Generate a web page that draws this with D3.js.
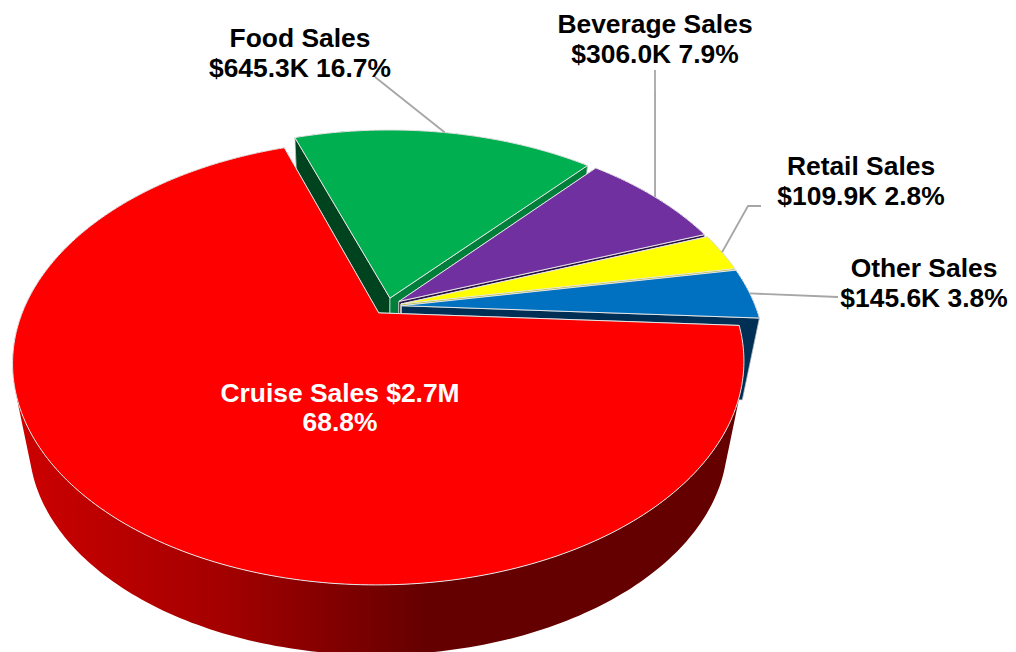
<!DOCTYPE html>
<html>
<head>
<meta charset="utf-8">
<script src="https://cdnjs.cloudflare.com/ajax/libs/d3/7.8.5/d3.min.js"></script>
<style>
  html, body { margin: 0; padding: 0; background: #fff; }
  svg { display: block; }
  text { font-family: "Liberation Sans", Arial, sans-serif; font-weight: bold; font-size: 26.4px; text-anchor: middle; }
</style>
</head>
<body>
<svg id="chart" width="1016" height="652"></svg>
<script>
// Sales mix, in thousands of dollars, clockwise from the Food Sales slice.
const categories = ["Food Sales", "Beverage Sales", "Retail Sales", "Other Sales", "Cruise Sales"];
const salesValues = [645.3, 306.0, 109.9, 145.6, 2660];
const amountLabels = ["$645.3K", "$306.0K", "$109.9K", "$145.6K", "$2.7M"];
const shareLabels = ["16.7%", "7.9%", "2.8%", "3.8%", "68.8%"];

// Slice colours: top face, start wall, end wall, rim.
const topColors = ["#00b050", "#7030a0", "#ffff00", "#0070c0", "#ff0000"];
const startWallColors = ["#00431f", "#3a1a55", "#8a8a00", "#002f55", "#660000"];
const endWallColors = ["#007f3a", "#2c1245", "#b5b500", "#002f55", "#660000"];
const rimColors = ["#00431f", "#3a1a55", "#8a8a00", "#002f55", "url(#rimShade)"];

const width = 1016, height = 652;

// Perspective view of the pie disc: unit-disc coordinates (u right, v away from viewer).
const view = { cx: 387.3, cy: 306.2, rx: 354, ry: 208.5, k: 0.221 };
const explode = 0.04;
// Lower face of the disc converges towards a vanishing point below the chart.
const depth = { vx: 379, vy: 2140, s: 0.955 };

const scaleU = d3.scaleLinear().domain([-1, 1]).range([view.cx - view.rx, view.cx + view.rx]);
const scaleV = d3.scaleLinear().domain([-1, 1]).range([view.cy + view.ry, view.cy - view.ry]);

function project(u, v) {
  const w = 1 + view.k * v;
  return [scaleU(u / w), scaleV(v / w)];
}
function lower(p) {
  return [depth.vx + depth.s * (p[0] - depth.vx), depth.vy + depth.s * (p[1] - depth.vy)];
}

const pie = d3.pie().sort(null)
  .startAngle(-19 * Math.PI / 180)
  .endAngle((360 - 19) * Math.PI / 180);
const slices = pie(salesValues);

// Point of a slice at fractional radius r and angle a, with the slice pushed out along its bisector.
function slicePoint(d, r, a) {
  const mid = (d.startAngle + d.endAngle) / 2;
  return project(explode * Math.sin(mid) + r * Math.sin(a),
                 explode * Math.cos(mid) + r * Math.cos(a));
}
function arcPoints(d) {
  const n = Math.max(4, Math.ceil((d.endAngle - d.startAngle) * 60));
  return d3.range(n + 1).map(i => slicePoint(d, 1, d.startAngle + (d.endAngle - d.startAngle) * i / n));
}

const line = d3.line().curve(d3.curveLinear);
const svg = d3.select("#chart");

const grad = svg.append("defs").append("linearGradient")
  .attr("id", "rimShade").attr("gradientUnits", "userSpaceOnUse")
  .attr("x1", 20).attr("x2", 430).attr("y1", 0).attr("y2", 0);
grad.append("stop").attr("offset", 0).attr("stop-color", "#cc0000");
grad.append("stop").attr("offset", 0.5).attr("stop-color", "#a30000");
grad.append("stop").attr("offset", 1).attr("stop-color", "#640000");

// Outer wall as consistently wound quads so the folded silhouette fills solidly.
function rimPath(d) {
  const pts = arcPoints(d);
  let path = "";
  for (let i = 0; i < pts.length - 1; i++) {
    let q = [pts[i], pts[i + 1], lower(pts[i + 1]), lower(pts[i])];
    if (d3.polygonArea(q) < 0) q = q.reverse();
    path += line(q) + "Z";
  }
  return path;
}
function facePath(d, a) {
  const apex = slicePoint(d, 0, 0), edge = slicePoint(d, 1, a);
  return line([apex, edge, lower(edge), lower(apex)]) + "Z";
}
function topPath(d) {
  return line([slicePoint(d, 0, 0), ...arcPoints(d)]) + "Z";
}

// Slices are painted back to front, the large front slice last.
const groups = svg.selectAll("g.slice").data(slices).join("g").attr("class", "slice");
groups.append("path").attr("d", d => rimPath(d))
  .attr("fill", (d, i) => rimColors[i]);
groups.append("path").attr("d", d => facePath(d, d.startAngle))
  .attr("fill", (d, i) => startWallColors[i]).attr("stroke", "#d9d9d9").attr("stroke-width", 0.8);
groups.append("path").attr("d", d => facePath(d, d.endAngle))
  .attr("fill", (d, i) => endWallColors[i]).attr("stroke", "#d9d9d9").attr("stroke-width", 0.8);
groups.append("path").attr("d", topPath)
  .attr("fill", (d, i) => topColors[i])
  .attr("stroke", "#e6e6e6").attr("stroke-width", 1).attr("stroke-linejoin", "round");

// Leader lines run from each slice's rim to its label.
const leaderStops = [
  [[375, 77]],
  [[655, 70]],
  [[748, 206], [761, 206]],
  [[838, 297]]
];
svg.selectAll("path.leader").data(slices.slice(0, 4)).join("path")
  .attr("class", "leader")
  .attr("d", (d, i) => line([slicePoint(d, 1, (d.startAngle + d.endAngle) / 2), ...leaderStops[i]]))
  .attr("fill", "none").attr("stroke", "#a6a6a6").attr("stroke-width", 1.8);

// Two-line data labels.
const labelAnchors = [[300, 47], [655, 33], [861, 175], [924, 277]];
labelAnchors.forEach((p, i) => {
  const t = svg.append("text").attr("x", p[0]).attr("y", p[1]).attr("fill", "#000");
  t.append("tspan").attr("x", p[0]).text(categories[i]);
  t.append("tspan").attr("x", p[0]).attr("dy", 30).text(amountLabels[i] + " " + shareLabels[i]);
});
const cruise = svg.append("text").attr("x", 340).attr("y", 402).attr("fill", "#fff");
cruise.append("tspan").attr("x", 340).text(categories[4] + " " + amountLabels[4]);
cruise.append("tspan").attr("x", 340).attr("dy", 29).text(shareLabels[4]);
</script>
</body>
</html>
